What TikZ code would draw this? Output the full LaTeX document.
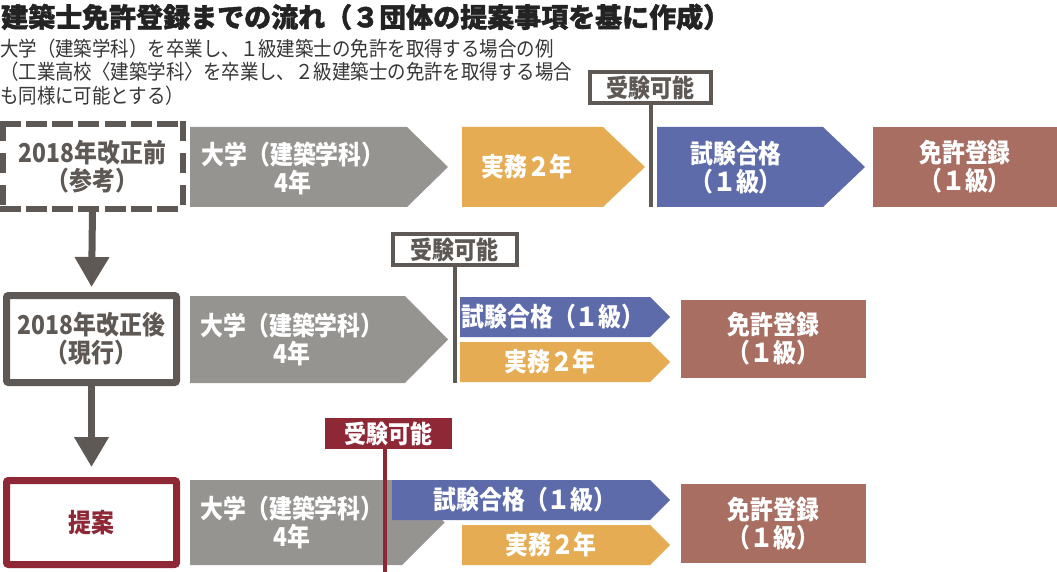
\documentclass[tikz,border=0pt]{standalone}
\usepackage{fontspec}
\setmainfont{Noto Sans CJK JP}
\newfontfamily\condfont{Noto Sans CJK JP}[FakeStretch=0.88]
\newfontfamily\subfont{Noto Sans CJK JP}[FakeStretch=0.9]
\newfontfamily\titlefont{Noto Sans CJK JP}[BoldFeatures={FakeBold=1.5}]
\usetikzlibrary{arrows.meta}
\definecolor{dgray}{RGB}{94,89,85}
\definecolor{agray}{RGB}{150,148,145}
\definecolor{aorange}{RGB}{230,172,84}
\definecolor{ablue}{RGB}{94,107,170}
\definecolor{abrown}{RGB}{168,110,98}
\definecolor{ared}{RGB}{142,39,54}
\definecolor{ttl}{RGB}{35,35,35}
\definecolor{sub}{RGB}{55,55,55}
\begin{document}
\begin{tikzpicture}[x=1pt,y=-1pt,
  bfont/.style={font=\condfont\fontsize{26}{28}\selectfont\bfseries},
  boxtext/.style={bfont, text=white, align=center, inner sep=0pt},
  leftbox/.style={minimum width=170pt, inner sep=0pt, bfont, align=center, line width=7pt, rounded corners=2pt},
  dashside/.style={draw=dgray, line width=6pt, line cap=rect},
  regbox/.style={fill=abrown, minimum width=185pt, minimum height=78pt, inner sep=0pt, bfont, text=white, align=center},
  exbox/.style={draw=dgray, fill=white, line width=4pt, minimum height=31pt, inner sep=0pt, font=\condfont\fontsize{25}{26}\selectfont\bfseries, text=dgray},
  exline/.style={draw=dgray, line width=4pt},
  conn/.style={draw=dgray, line width=7pt, -{Triangle[width=33pt,length=30pt]}, dgray},
  subline/.style={anchor=west, inner sep=0pt, font=\subfont\fontsize{20.5}{22}\selectfont, text=sub}
]
\useasboundingbox (0,0) rectangle (1057,572);
\fill[white] (0,0) rectangle (1057,572);

% title and subtitle
\node[anchor=west, inner sep=0pt, font=\titlefont\fontsize{27}{30}\selectfont\bfseries, text=ttl] (title) at (1,17) {建築士免許登録までの流れ（３団体の提案事項を基に作成）};
\node[subline] (s1) at (0,49) {大学（建築学科）を卒業し、１級建築士の免許を取得する場合の例};
\node[subline] (s2) at (0,72) {（工業高校〈建築学科〉を卒業し、２級建築士の免許を取得する場合};
\node[subline] (s3) at (0,96) {も同様に可能とする）};

% ---------- row 1 ----------
\node[leftbox, minimum width=173pt, minimum height=78pt, text=dgray] (pre) at (92.5,167) {2018年改正前\\（参考）};
\draw[dashside, dash pattern=on 15pt off 11.33pt] (pre.north west) -- (pre.north east);
\draw[dashside, dash pattern=on 15pt off 11.33pt] (pre.south west) -- (pre.south east);
\draw[dashside, dash pattern=on 14pt off 18pt] (pre.north west) -- (pre.south west);
\draw[dashside, dash pattern=on 14pt off 18pt] (pre.north east) -- (pre.south east);

\fill[agray] (190,127) -- (407,127) -- (448,167) -- (407,207) -- (190,207) -- cycle;
\node[boxtext] (g1) at (293,168) {大学（建築学科）\\4年};
\fill[aorange] (462,127) -- (603,127) -- (645,167) -- (603,207) -- (462,207) -- cycle;
\node[boxtext] (o1) at (527,167) {実務２年};
\fill[ablue] (657,127) -- (823,127) -- (865,167) -- (823,207) -- (657,207) -- cycle;
\node[boxtext] (b1) at (736,168) {試験合格\\（１級）};
\node[regbox, minimum width=184pt, minimum height=80pt] (r1) at (965,167) {免許登録\\（１級）};
\node[exbox, minimum width=121pt] (ex1) at (650.5,87.5) {受験可能};
\coordinate (ex1end) at (650.5,207);
\draw[exline] (ex1.south) -- (ex1end);

% ---------- row 2 ----------
\node[leftbox, draw=dgray, minimum height=87pt, text=dgray] (cur) at (91.5,339) {2018年改正後\\（現行）};
\fill[agray] (190,296) -- (405,296) -- (448,339.5) -- (405,383) -- (190,383) -- cycle;
\node[boxtext] (g2) at (292,339) {大学（建築学科）\\4年};
\fill[ablue] (460,297) -- (650,297) -- (670,317) -- (650,337) -- (460,337) -- cycle;
\node[boxtext] (b2) at (553,317) {試験合格（１級）};
\fill[aorange] (460,342) -- (650,342) -- (670,362) -- (650,382) -- (460,382) -- cycle;
\node[boxtext] (o2) at (550,362) {実務２年};
\node[regbox] (r2) at (773.5,339) {免許登録\\（１級）};
\node[exbox, minimum width=124pt] (ex2) at (454.5,249.5) {受験可能};
\coordinate (ex2end) at (454.5,383);
\draw[exline] (ex2.south) -- (ex2end);

% ---------- row 3 ----------
\node[leftbox, draw=ared, minimum height=84pt, text=ared] (prop) at (91.5,522.5) {提案};
\fill[agray] (190,480) -- (402,480) -- (444.5,522.5) -- (402,565) -- (190,565) -- cycle;
\node[boxtext] (g3) at (292,522) {大学（建築学科）\\4年};
\fill[ablue] (392,480) -- (650,480) -- (670,500) -- (650,520) -- (392,520) -- cycle;
\node[boxtext] (b3) at (525,500) {試験合格（１級）};
\fill[aorange] (462,525) -- (650,525) -- (670,545) -- (650,565) -- (462,565) -- cycle;
\node[boxtext] (o3) at (551,545) {実務２年};
\node[regbox, minimum height=79pt] (r3) at (773.5,523.5) {免許登録\\（１級）};
\node[fill=ared, minimum width=127pt, minimum height=31pt, inner sep=0pt, font=\condfont\fontsize{25}{26}\selectfont\bfseries, text=white] (ex3) at (388.5,433.5) {受験可能};
\coordinate (ex3end) at (384.5,572);
\draw[draw=ared, line width=4pt] (ex3.south -| ex3end) -- (ex3end);

% ---------- connectors ----------
\draw[conn, shorten >=5pt] (pre.south) -- (cur.north);
\draw[conn, shorten >=10pt] (cur.south) -- (prop.north);
\end{tikzpicture}
\end{document}
